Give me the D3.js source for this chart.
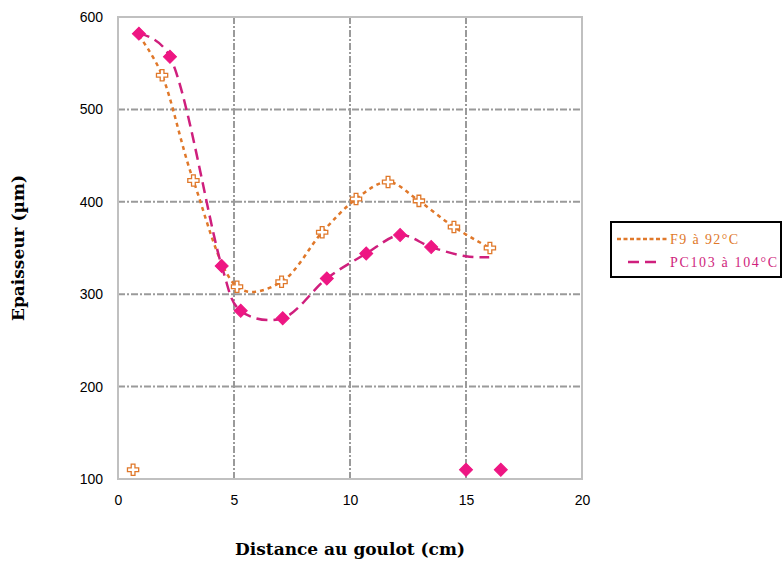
<!DOCTYPE html>
<html><head><meta charset="utf-8">
<script src="https://cdn.jsdelivr.net/npm/d3@7"></script>
<style>body{margin:0;background:#fff}</style>
</head><body>
<svg id="c" width="783" height="568"></svg>
<script>
const xTicks = [0, 5, 10, 15, 20];
const yTicks = [100, 200, 300, 400, 500, 600];
const seriesNames = ["F9 à 92°C", "PC103 à 104°C"];
// F9 smoothed line points (distance cm, thickness µm)
const f9X = [0.9, 1.9, 3.25, 5.13, 7.05, 8.8, 10.26, 11.64, 12.97, 14.48, 16.03];
const f9Y = [580, 537, 423, 308, 313.5, 367, 403, 421.5, 401, 372.7, 350];
// F9 isolated point
const f9OutX = [0.65];
const f9OutY = [110];
// PC103 line points
const pcX = [0.9, 2.24, 4.47, 5.29, 7.1, 9.0, 10.7, 12.16, 13.5, 15, 16];
const pcY = [582, 557, 330.5, 282, 274, 317, 344, 364, 351, 341, 340];
const pcMarked = [1, 1, 1, 1, 1, 1, 1, 1, 1, 0, 0];
// PC103 isolated points
const pcOutX = [15, 16.5];
const pcOutY = [110, 110];

const svg = d3.select("#c");
const x = d3.scaleLinear().domain([0, 20]).range([118, 582]);
const y = d3.scaleLinear().domain([100, 600]).range([479, 17]);

const orange = "#e0782a", pinkLine = "#cf1f7d", pinkMark = "#ee1683";

// gridlines
const g = svg.append("g");
g.selectAll(".vg").data(xTicks.slice(1, -1)).enter().append("line")
  .attr("x1", d => x(d)).attr("x2", d => x(d)).attr("y1", y(600)).attr("y2", y(100))
  .attr("stroke", "#9a9a9a").attr("stroke-width", 2).attr("stroke-dasharray", "7,2,2,2");
g.selectAll(".hg").data(yTicks.slice(1, -1)).enter().append("line")
  .attr("y1", d => y(d)).attr("y2", d => y(d)).attr("x1", x(0)).attr("x2", x(20))
  .attr("stroke", "#9a9a9a").attr("stroke-width", 2).attr("stroke-dasharray", "7,2,2,2");
// frame
svg.append("rect").attr("x", x(0)).attr("y", y(600)).attr("width", x(20) - x(0)).attr("height", y(100) - y(600))
  .attr("fill", "none").attr("stroke", "#c0c0c0").attr("stroke-width", 2);

// axes (labels only)
const xAxis = d3.axisBottom(x).tickValues(xTicks).tickSize(0).tickPadding(16);
const yAxis = d3.axisLeft(y).tickValues(yTicks).tickSize(0).tickPadding(15);
const gx = svg.append("g").attr("transform", `translate(0,${y(100)})`).call(xAxis);
const gy = svg.append("g").attr("transform", `translate(${x(0)},0)`).call(yAxis);
[gx, gy].forEach(a => {
  a.select(".domain").remove();
  a.selectAll("text").attr("font-family", "Liberation Sans, Arial, sans-serif").attr("font-size", 14).attr("fill", "#000");
});

const line = d3.line().x(d => x(d[0])).y(d => y(d[1])).curve(d3.curveCatmullRom.alpha(0.3));
const f9 = f9X.map((v, i) => [v, f9Y[i]]);
const pc = pcX.map((v, i) => [v, pcY[i]]);

svg.append("path").attr("d", line(f9)).attr("fill", "none").attr("stroke", orange)
  .attr("stroke-width", 2.5).attr("stroke-dasharray", "4,4");
svg.append("path").attr("d", line(pc)).attr("fill", "none").attr("stroke", pinkLine)
  .attr("stroke-width", 2.5).attr("stroke-dasharray", "11,6");

const cross = d3.symbol().type(d3.symbolCross).size(70);
const diamond = d3.symbol().type(d3.symbolSquare).size(85);
const f9Pts = f9.slice(1).concat(f9OutX.map((v, i) => [v, f9OutY[i]]));
svg.selectAll(".f9m").data(f9Pts).enter().append("path")
  .attr("d", cross).attr("transform", d => `translate(${x(d[0])},${y(d[1])})`)
  .attr("fill", "#fff").attr("stroke", orange).attr("stroke-width", 1.3);
const pcPts = pc.filter((d, i) => pcMarked[i]).concat(pcOutX.map((v, i) => [v, pcOutY[i]]));
svg.selectAll(".pcm").data(pcPts).enter().append("path")
  .attr("d", diamond).attr("transform", d => `translate(${x(d[0])},${y(d[1])}) rotate(45)`)
  .attr("fill", pinkMark).attr("stroke", pinkMark).attr("stroke-width", 1);

// axis titles
svg.append("text").attr("x", 350).attr("y", 555).attr("text-anchor", "middle")
  .attr("font-family", "DejaVu Serif, serif").attr("font-weight", "bold").attr("font-size", 17)
  .text("Distance au goulot (cm)");
svg.append("text").attr("transform", "translate(24,248) rotate(-90)").attr("text-anchor", "middle")
  .attr("font-family", "DejaVu Serif, serif").attr("font-weight", "bold").attr("font-size", 17)
  .text("Epaisseur (µm)");

// legend
const lg = svg.append("g");
lg.append("rect").attr("x", 611).attr("y", 222).attr("width", 170).attr("height", 55)
  .attr("fill", "#fff").attr("stroke", "#000").attr("stroke-width", 2);
lg.append("line").attr("x1", 617).attr("x2", 668).attr("y1", 239).attr("y2", 239)
  .attr("stroke", orange).attr("stroke-width", 2.5).attr("stroke-dasharray", "4,2.5");
lg.append("line").attr("x1", 628).attr("x2", 656).attr("y1", 262).attr("y2", 262)
  .attr("stroke", pinkLine).attr("stroke-width", 2.5).attr("stroke-dasharray", "11,6");
lg.append("text").attr("x", 670).attr("y", 244).attr("fill", orange)
  .attr("font-family", "Liberation Serif, serif").attr("font-size", 14)
  .attr("textLength", 68).text(seriesNames[0]);
lg.append("text").attr("x", 670).attr("y", 267).attr("fill", pinkLine)
  .attr("font-family", "Liberation Serif, serif").attr("font-size", 14)
  .attr("textLength", 107).text(seriesNames[1]);
</script>
</body></html>
